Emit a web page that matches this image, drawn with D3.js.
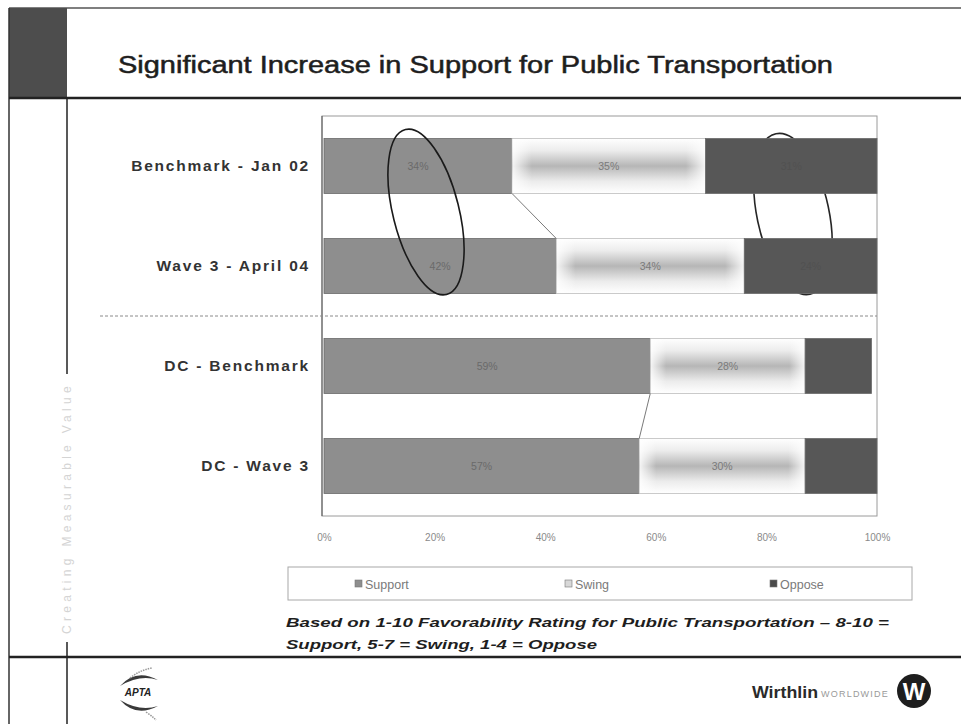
<!DOCTYPE html>
<html>
<head>
<meta charset="utf-8">
<script src="https://cdn.jsdelivr.net/npm/d3@7"></script>
<style>
  html, body { margin: 0; padding: 0; background: #fff; }
  svg { display: block; font-family: "Liberation Sans", Arial, sans-serif; }
</style>
</head>
<body>
<svg id="chart" width="961" height="724"></svg>
<script>
// Survey groups (top to bottom) and the share of each rating band, in percent
const categories = ["Benchmark - Jan 02", "Wave 3 - April 04", "DC - Benchmark", "DC - Wave 3"];
const seriesNames = ["Support", "Swing", "Oppose"];
const supportValues = [34, 42, 59, 57];
const swingValues = [35, 34, 28, 30];
const opposeValues = [31, 24, 12, 13];
const tickValues = [0, 20, 40, 60, 80, 100];
const tickLabels = ["0%", "20%", "40%", "60%", "80%", "100%"];
// Which segment labels are printed on the bars
const showOpposeLabel = [true, true, false, false];

const title = "Significant Increase in Support for Public Transportation";
const footnoteLines = [
  "Based on 1-10 Favorability Rating for Public Transportation \u2013 8-10 =",
  "Support, 5-7 = Swing, 1-4 = Oppose"
];

const svg = d3.select("#chart");
const defs = svg.append("defs");

// Fills for the three bands
const swingGrad = defs.append("linearGradient").attr("id", "swingFill")
  .attr("x1", 0).attr("y1", 0).attr("x2", 0).attr("y2", 1);
swingGrad.append("stop").attr("offset", "0%").attr("stop-color", "#ffffff");
swingGrad.append("stop").attr("offset", "22%").attr("stop-color", "#ececec");
swingGrad.append("stop").attr("offset", "50%").attr("stop-color", "#b6b6b6");
swingGrad.append("stop").attr("offset", "78%").attr("stop-color", "#ececec");
swingGrad.append("stop").attr("offset", "100%").attr("stop-color", "#ffffff");

const swingSide = defs.append("linearGradient").attr("id", "swingSide")
  .attr("x1", 0).attr("y1", 0).attr("x2", 1).attr("y2", 0);
swingSide.append("stop").attr("offset", "0%").attr("stop-color", "#fff").attr("stop-opacity", 0.85);
swingSide.append("stop").attr("offset", "10%").attr("stop-color", "#fff").attr("stop-opacity", 0);
swingSide.append("stop").attr("offset", "90%").attr("stop-color", "#fff").attr("stop-opacity", 0);
swingSide.append("stop").attr("offset", "100%").attr("stop-color", "#fff").attr("stop-opacity", 0.85);

const fills = { Support: "#8e8e8e", Swing: "url(#swingFill)", Oppose: "#575757" };
const legendFills = { Support: "#8e8e8e", Swing: "#d8d8d8", Oppose: "#4a4a4a" };

// ---------- slide frame ----------
const frame = svg.append("g").attr("class", "frame");
frame.append("line").attr("x1", 9).attr("x2", 961).attr("y1", 8).attr("y2", 8)
  .attr("stroke", "#555").attr("stroke-width", 1.5);
frame.append("rect").attr("x", 9).attr("y", 8).attr("width", 58).attr("height", 90)
  .attr("fill", "#4d4d4d");
frame.append("line").attr("x1", 9).attr("x2", 9).attr("y1", 8).attr("y2", 724)
  .attr("stroke", "#333").attr("stroke-width", 1.5);
frame.append("line").attr("x1", 9).attr("x2", 961).attr("y1", 98).attr("y2", 98)
  .attr("stroke", "#222").attr("stroke-width", 2.5);
frame.append("line").attr("x1", 67).attr("x2", 67).attr("y1", 98).attr("y2", 724)
  .attr("stroke", "#222").attr("stroke-width", 1.5);
frame.append("line").attr("x1", 9).attr("x2", 961).attr("y1", 657).attr("y2", 657)
  .attr("stroke", "#222").attr("stroke-width", 2.5);

// vertical tagline in the left margin
frame.append("rect").attr("x", 60).attr("y", 374).attr("width", 14).attr("height", 268)
  .attr("fill", "#fff");
frame.append("text")
  .attr("transform", "translate(71,508) rotate(-90)")
  .attr("text-anchor", "middle")
  .attr("font-size", 12)
  .attr("letter-spacing", 4.3)
  .attr("fill", "#d4d4d4")
  .text("Creating Measurable Value");

// ---------- title ----------
svg.append("text")
  .attr("x", 118).attr("y", 73)
  .attr("font-size", 23)
  .attr("fill", "#1e1e1e")
  .attr("stroke", "#1e1e1e")
  .attr("stroke-width", 0.5)
  .attr("textLength", 715)
  .attr("lengthAdjust", "spacingAndGlyphs")
  .text(title);

// ---------- chart ----------
const x = d3.scaleLinear().domain([0, 100]).range([324, 877]);
const y = d3.scaleBand().domain(categories).range([116, 516])
  .paddingInner(0.45).paddingOuter(0.225);

// plot area box
svg.append("rect")
  .attr("x", 322).attr("y", 116).attr("width", 555).attr("height", 400)
  .attr("fill", "none").attr("stroke", "#9a9a9a").attr("stroke-width", 1);

// annotation ring around the Oppose results (drawn under the bars)
svg.append("ellipse")
  .attr("cx", 793).attr("cy", 214).attr("rx", 36).attr("ry", 82)
  .attr("transform", "rotate(-12,793,214)")
  .attr("fill", "none").attr("stroke", "#262626").attr("stroke-width", 1.6);

// stack the three bands
const rows = categories.map((c, i) => ({
  cat: c, Support: supportValues[i], Swing: swingValues[i], Oppose: opposeValues[i]
}));
const stack = d3.stack().keys(seriesNames)(rows);

const bars = svg.append("g").attr("class", "bars");
stack.forEach(layer => {
  const key = layer.key;
  layer.forEach((seg, i) => {
    const cat = categories[i];
    bars.append("rect")
      .attr("x", x(seg[0]))
      .attr("y", y(cat))
      .attr("width", x(seg[1]) - x(seg[0]))
      .attr("height", y.bandwidth())
      .attr("fill", fills[key])
      .attr("stroke", key === "Swing" ? "#bdbdbd" : "#6a6a6a")
      .attr("stroke-width", 0.8);
    if (key === "Swing") {
      bars.append("rect")
        .attr("x", x(seg[0]) + 0.5)
        .attr("y", y(cat) + 0.5)
        .attr("width", x(seg[1]) - x(seg[0]) - 1)
        .attr("height", y.bandwidth() - 1)
        .attr("fill", "url(#swingSide)");
    }
  });
});

// segment value labels
const labels = svg.append("g").attr("class", "labels")
  .attr("font-size", 10.5).attr("text-anchor", "middle");
stack.forEach(layer => {
  const key = layer.key;
  layer.forEach((seg, i) => {
    if (key === "Oppose" && !showOpposeLabel[i]) return;
    const v = seg[1] - seg[0];
    labels.append("text")
      .attr("x", x((seg[0] + seg[1]) / 2))
      .attr("y", y(categories[i]) + y.bandwidth() / 2 + 4)
      .attr("fill", key === "Oppose" ? "#515151" : (key === "Support" ? "#6a6a6a" : "#7a7a7a"))
      .text(v + "%");
  });
});

// series lines joining the Support ends of paired bars
const pairs = [[0, 1], [2, 3]];
pairs.forEach(([a, b]) => {
  svg.append("line")
    .attr("x1", x(supportValues[a])).attr("y1", y(categories[a]) + y.bandwidth())
    .attr("x2", x(supportValues[b])).attr("y2", y(categories[b]))
    .attr("stroke", "#7a7a7a").attr("stroke-width", 1);
});

// category axis
svg.append("line").attr("x1", 322).attr("x2", 322).attr("y1", 116).attr("y2", 516)
  .attr("stroke", "#555").attr("stroke-width", 1);
svg.append("g").attr("class", "ylabels")
  .selectAll("text").data(categories).enter().append("text")
  .attr("x", 310)
  .attr("y", d => y(d) + y.bandwidth() / 2 + 5)
  .attr("text-anchor", "end")
  .attr("font-size", 15.5)
  .attr("font-weight", "bold")
  .attr("letter-spacing", 1.8)
  .attr("fill", "#333")
  .text(d => d);

// dashed divider between national and DC results
const divY = y(categories[1]) + y.step() - (y.step() - y.bandwidth()) / 2;
svg.append("line")
  .attr("x1", 100).attr("x2", 877)
  .attr("y1", divY).attr("y2", divY)
  .attr("stroke", "#8a8a8a").attr("stroke-width", 1).attr("stroke-dasharray", "3,2");

// value axis
const xAxis = d3.axisBottom(x).tickValues(tickValues)
  .tickFormat((d, i) => tickLabels[i]).tickSize(0).tickPadding(0);
const xg = svg.append("g").attr("transform", "translate(0,541)").call(xAxis);
xg.select(".domain").remove();
xg.selectAll("text").attr("font-size", 10).attr("fill", "#8a8a8a")
  .attr("font-family", "Liberation Sans, Arial, sans-serif").attr("dy", 0);

// legend
const legend = svg.append("g").attr("class", "legend");
legend.append("rect").attr("x", 288).attr("y", 567).attr("width", 624).attr("height", 33)
  .attr("fill", "#fff").attr("stroke", "#a8a8a8").attr("stroke-width", 1);
const legendX = [355, 565, 770];
seriesNames.forEach((name, i) => {
  const g = legend.append("g").attr("transform", `translate(${legendX[i]},584)`);
  g.append("rect").attr("x", 0).attr("y", -4).attr("width", 7).attr("height", 7)
    .attr("fill", legendFills[name]).attr("stroke", "#777").attr("stroke-width", 0.6);
  g.append("text").attr("x", 10).attr("y", 4.5).attr("font-size", 12.5)
    .attr("fill", "#7a7a7a").text(name);
});

// footnote
svg.append("g").selectAll("text").data(footnoteLines).enter().append("text")
  .attr("x", 286)
  .attr("y", (d, i) => 627 + i * 22)
  .attr("font-size", 13.5)
  .attr("font-weight", "bold")
  .attr("font-style", "italic")
  .attr("fill", "#1e1e1e")
  .attr("textLength", (d, i) => i === 0 ? 603 : 311)
  .attr("lengthAdjust", "spacingAndGlyphs")
  .text(d => d);

// annotation ring around the Support results
svg.append("ellipse")
  .attr("cx", 426).attr("cy", 212).attr("rx", 33).attr("ry", 85)
  .attr("transform", "rotate(-14,426,212)")
  .attr("fill", "none").attr("stroke", "#1a1a1a").attr("stroke-width", 1.6);

// ---------- footer logos ----------
const apta = svg.append("g").attr("transform", "translate(138,692)");
apta.append("path").attr("d", "M-18,-6 Q-2,-24 20,-12 Q2,-18 -18,-6 Z")
  .attr("fill", "#3a3a3a");
apta.append("path").attr("d", "M-18,8 Q-2,26 20,14 Q2,20 -18,8 Z")
  .attr("fill", "#3a3a3a");
apta.append("path").attr("d", "M-8,-14 Q2,-22 14,-24").attr("fill", "none")
  .attr("stroke", "#999").attr("stroke-width", 1.5).attr("stroke-dasharray", "1.5,1");
apta.append("path").attr("d", "M8,20 Q14,24 18,28").attr("fill", "none")
  .attr("stroke", "#999").attr("stroke-width", 1.5).attr("stroke-dasharray", "1.5,1");
apta.append("text").attr("x", 0).attr("y", 4).attr("text-anchor", "middle")
  .attr("font-size", 10).attr("font-weight", "bold").attr("font-style", "italic")
  .attr("fill", "#222").text("APTA");

svg.append("text").attr("x", 752).attr("y", 698)
  .attr("font-size", 17).attr("font-weight", "bold").attr("fill", "#2a2a2a")
  .attr("textLength", 66).attr("lengthAdjust", "spacingAndGlyphs")
  .text("Wirthlin");
svg.append("text").attr("x", 821).attr("y", 697)
  .attr("font-size", 9).attr("fill", "#9a9a9a").attr("letter-spacing", 1.2)
  .attr("textLength", 68).attr("lengthAdjust", "spacingAndGlyphs")
  .text("WORLDWIDE");
svg.append("circle").attr("cx", 914).attr("cy", 691).attr("r", 17).attr("fill", "#1e1e1e");
svg.append("text").attr("x", 914).attr("y", 700).attr("text-anchor", "middle")
  .attr("font-size", 24).attr("font-weight", "bold").attr("fill", "#fff").text("W");
</script>
</body>
</html>
